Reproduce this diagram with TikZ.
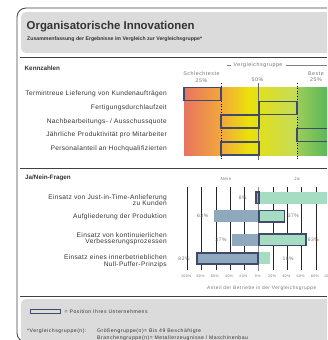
\documentclass[tikz,border=0pt]{standalone}
\usepackage{fontspec}
\setmainfont{Liberation Sans}
\newfontfamily\spacedfont[LetterSpace=10]{Liberation Sans}
\newfontfamily\labelfont[LetterSpace=5]{Liberation Sans}
\colorlet{framecolor}{black!75}
\colorlet{panelgray}{black!14}
\colorlet{textcolor}{black!80}
\colorlet{axiscolor}{black!50}
\definecolor{boxcolor}{HTML}{414A6B}
\definecolor{neincolor}{HTML}{8EA9BD}
\definecolor{jacolor}{HTML}{A6DCC1}
\definecolor{gradred}{HTML}{E8735F}
\definecolor{gradorange}{HTML}{F2A83B}
\definecolor{gradyellow}{HTML}{EAE00A}
\definecolor{gradlime}{HTML}{C4DC5A}
\definecolor{gradgreen}{HTML}{5DB75A}

\begin{document}
\begin{tikzpicture}
  [x=1pt,y=-1pt,line cap=butt,
   % Styles
   section title/.style={anchor=west,inner sep=0pt,font=\bfseries\fontsize{6.3}{7}\selectfont,text=textcolor},
   row label/.style={anchor=east,inner sep=0pt,align=right,font=\labelfont\fontsize{6.6}{6.6}\selectfont,text=textcolor},
   small label/.style={inner sep=0pt,align=center,font=\spacedfont\fontsize{5.3}{6.3}\selectfont,text=black!55},
   value label/.style={inner sep=0pt,font=\spacedfont\fontsize{5}{6}\selectfont,text=black!55},
   footer text/.style={inner sep=0pt,font=\spacedfont\fontsize{5.1}{7}\selectfont,text=textcolor},
   position box/.style={draw=boxcolor,line width=1.8pt},
   separator/.style={draw=framecolor,line width=1pt}]

  \useasboundingbox (0,0) rectangle (327,340);
  \clip (0,0) rectangle (327,340);

  % Frame and panels
  \draw[framecolor,line width=0.8pt,rounded corners=9pt] (400,8) -- (17,8) -- (17,342) -- (400,342);
  \fill[panelgray,rounded corners=5pt] (21,12) rectangle (400,53);
  \node[anchor=base west,inner sep=0pt,font=\bfseries\fontsize{11.4}{13}\selectfont,text=black!80] (title) at (26.5,29) {Organisatorische Innovationen};
  \node[anchor=base west,inner sep=0pt,font=\bfseries\fontsize{5.2}{6}\selectfont,text=black!80] (subtitle) at (27,40) {Zusammenfassung der Ergebnisse im Vergleich zur Vergleichsgruppe*};
  \draw[separator] (20,57.5) -- (327,57.5);

  % Kennzahlen
  \node[section title] (kennzahlen) at (24.5,68) {Kennzahlen};
  \node[small label] (vergleich) at (258,65.5) {Vergleichsgruppe};
  \draw[axiscolor,line width=0.4pt] (227,65.5) -- ([xshift=-2pt]vergleich.west);
  \draw[axiscolor,line width=0.4pt] ([xshift=3pt]vergleich.east) -- (327,65.5);
  \node[small label] (worst) at (201.5,77) {Schlechteste\\25\%};
  \node[small label] (median) at (257.5,79.5) {50\%};
  \node[small label] (best) at (316,77) {Beste\\25\%};

  \shade[left color=gradred,right color=gradorange] (184,87) rectangle (221,155.5);
  \shade[left color=gradorange,right color=gradyellow] (221,87) rectangle (248,155.5);
  \shade[left color=gradyellow,right color=gradlime] (247.8,87) rectangle (297,155.5);
  \shade[left color=gradlime!60!gradgreen,right color=gradgreen] (297,87) rectangle (327,155.5);

  \draw[black,line width=0.6pt,dotted] (221,83) -- (221,160);
  \draw[black!60,line width=0.6pt] (258.7,83) -- (258.7,160);
  \draw[black,line width=0.6pt,dotted] (297,83) -- (297,160);

  \foreach \y/\text in {94/{Termintreue Lieferung von Kundenaufträgen},
                        108/{Fertigungsdurchlaufzeit},
                        121.5/{Nachbearbeitungs- / Ausschussquote},
                        135/{Jährliche Produktivität pro Mitarbeiter},
                        148.5/{Personalanteil an Hochqualifizierten}}
    \node[row label] at (167,\y) {\text};

  \draw[position box] (184,87.5) rectangle (221,100.5);
  \draw[position box] (258.7,101.5) rectangle (297,114.5);
  \draw[position box] (221,115) rectangle (258.7,128);
  \draw[position box] (297,128.5) rectangle (335,141.5);
  \draw[position box] (221,142) rectangle (258.7,155);

  \draw[separator] (20,168) -- (327,168);

  % Ja/Nein-Fragen
  \node[section title] (janein) at (25,178) {Ja/Nein-Fragen};
  \node[small label,font=\spacedfont\fontsize{4.5}{5}\selectfont] (nein) at (226,178.5) {Nein};
  \node[small label,font=\spacedfont\fontsize{4.5}{5}\selectfont] (ja) at (297,178.5) {Ja};

  \foreach \p in {-100,-80,-60,-40,-20,20,40,60,80,100}
    \draw[black!85,line width=0.6pt] (258.7+0.715*\p,187) -- (258.7+0.715*\p,270);
  \draw[black!45,line width=0.8pt] (258.7,187) -- (258.7,271);
  \foreach \p/\text in {-100/100\%,-80/80\%,-60/60\%,-40/40\%,-20/20\%,0/0\%,20/20\%,40/40\%,60/60\%,80/80\%,100/100\%}
    \node[value label,font=\spacedfont\fontsize{3.6}{4}\selectfont] at (257.7+0.715*\p,276) {\text};
  \node[small label,font=\spacedfont\fontsize{4.8}{5.5}\selectfont] (anteil) at (261.7,288) {Anteil der Betriebe in der Vergleichsgruppe};

  \node[row label] at (167,200.3) {Einsatz von Just-in-Time-Anlieferung\\zu Kunden};
  \node[row label] at (167,216.7) {Aufgliederung der Produktion};
  \node[row label] at (167,238.8) {Einsatz von kontinuierlichen\\Verbesserungsprozessen};
  \node[row label] at (167,261.3) {Einsatz eines innerbetrieblichen\\Null-Puffer-Prinzips};

  % Bars (value in %, negative = Nein)
  \fill[neincolor] (258.7,191.5) rectangle ++(-0.715*4,12.5);
  \fill[jacolor] (258.7,191.5) rectangle ++(0.715*95,12.5);
  \draw[position box] (258.7,192) rectangle ++(-0.715*4,11.5);
  \node[value label] at (242.7,197.5) {8\%};

  \fill[neincolor] (258.7,210) rectangle ++(-0.715*63,12);
  \fill[jacolor] (258.7,210) rectangle ++(0.715*36,12);
  \draw[position box] (258.7,210.5) rectangle ++(0.715*36,11.5);
  \node[value label] at (202.7,216) {63\%};
  \node[value label] at (293.3,216) {37\%};

  \fill[neincolor] (258.7,234) rectangle ++(-0.715*37,12);
  \fill[jacolor] (258.7,234) rectangle ++(0.715*66,12);
  \draw[position box] (259.3,234) rectangle ++(0.715*65,11.5);
  \node[value label] at (221,240) {37\%};
  \node[value label] at (313.3,240) {63\%};

  \fill[neincolor] (258.7,252.3) rectangle ++(-0.715*86,12);
  \fill[jacolor] (258.7,252.3) rectangle ++(0.715*16,12);
  \draw[position box] (258,252.8) rectangle ++(-0.715*85,11.2);
  \node[value label] at (184,258.3) {82\%};
  \node[value label] at (288,258.3) {18\%};

  \draw[separator] (20,296) -- (327,296);

  % Legend and footnote
  \fill[panelgray,rounded corners=5pt] (21,299) rectangle (400,360);
  \draw[boxcolor,line width=0.8pt] (30,309) rectangle (60,313.3);
  \node[footer text,anchor=west] (legend) at (64.5,311.2) {= Position Ihres Unternehmens};
  \node[footer text,anchor=west] (footnote) at (27,331) {*Vergleichsgruppe(n):};
  \node[footer text,anchor=north west,align=left,font=\spacedfont\fontsize{5.1}{6.7}\selectfont] (groups) at (97,328.5) {Größengruppe(n)= Bis 49 Beschäftigte\\Branchengruppe(n)= Metallerzeugnisse / Maschinenbau};
\end{tikzpicture}
\end{document}
